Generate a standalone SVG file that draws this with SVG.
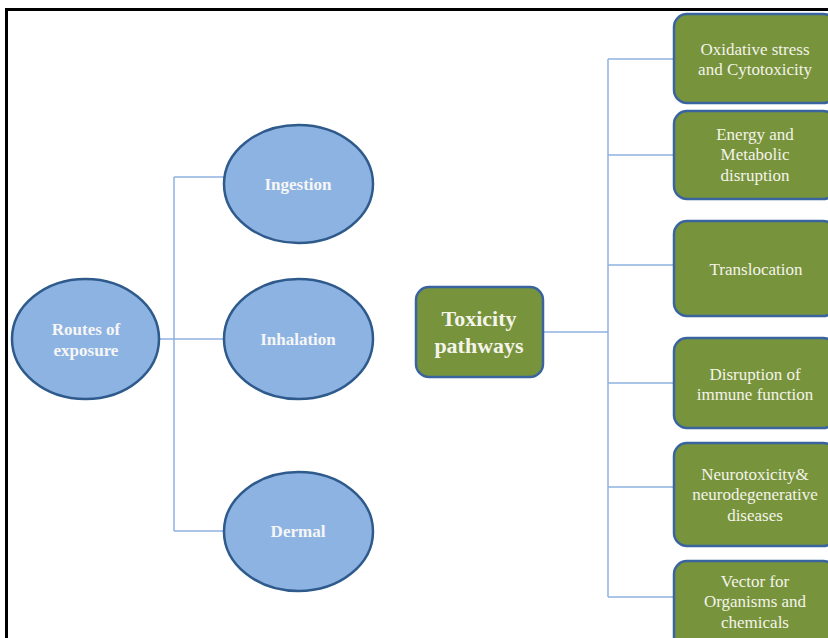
<svg xmlns="http://www.w3.org/2000/svg" width="828" height="638" viewBox="0 0 828 638">
<style>
.ell{fill:#8db3e2;stroke:#2e5a8c;stroke-width:2.5}
.box{fill:#77933c;stroke:#3a64a0;stroke-width:2.5}
.et{font-family:"Liberation Serif",serif;font-weight:bold;font-size:17px;fill:#f6f6f6;text-anchor:middle}
.bt{font-family:"Liberation Serif",serif;font-size:17px;fill:#f4f4ea;text-anchor:middle}
.tt{font-family:"Liberation Serif",serif;font-weight:bold;font-size:22px;fill:#f4f4ea;text-anchor:middle}
.con{fill:none;stroke:#8eb2e0;stroke-width:1.5}
</style>
<rect x="0" y="0" width="828" height="638" fill="#ffffff"/>
<path d="M6.5 650 V9.5 H840" fill="none" stroke="#000" stroke-width="3"/>
<g id="connectors">
<path class="con" d="M159 339 H174 M174 177 V531 M174 177 H224 M174 339 H224 M174 531 H224"/>
<path class="con" d="M543 332 H608 M608 59 V597 M608 59 H674 M608 155 H674 M608 265 H674 M608 383 H674 M608 487 H674 M608 597 H674"/>
</g>
<g id="routes"><ellipse class="ell" cx="85.5" cy="339" rx="73.5" ry="60"/><text class="et" x="86" y="335">Routes of</text><text class="et" x="86" y="356">exposure</text></g>
<g id="ingestion"><ellipse class="ell" cx="298.5" cy="184" rx="74.5" ry="59"/><text class="et" x="298" y="190">Ingestion</text></g>
<g id="inhalation"><ellipse class="ell" cx="298.5" cy="339" rx="74.5" ry="60"/><text class="et" x="298" y="345">Inhalation</text></g>
<g id="dermal"><ellipse class="ell" cx="298.5" cy="531.5" rx="74.5" ry="59.5"/><text class="et" x="298" y="537">Dermal</text></g>
<g id="toxicity"><rect class="box" x="416" y="287" width="127" height="90" rx="13"/><text class="tt" x="479" y="326">Toxicity</text><text class="tt" x="479" y="353">pathways</text></g>
<g id="oxidative"><rect class="box" x="674" y="14" width="162" height="89" rx="13"/><text class="bt" x="755" y="55">Oxidative stress</text><text class="bt" x="755" y="75">and Cytotoxicity</text></g>
<g id="energy"><rect class="box" x="674" y="111" width="162" height="88" rx="13"/><text class="bt" x="755" y="140">Energy and</text><text class="bt" x="755" y="160">Metabolic</text><text class="bt" x="755" y="181">disruption</text></g>
<g id="translocation"><rect class="box" x="674" y="221" width="162" height="95" rx="13"/><text class="bt" x="756" y="275">Translocation</text></g>
<g id="immune"><rect class="box" x="674" y="338" width="162" height="90" rx="13"/><text class="bt" x="755" y="380">Disruption of</text><text class="bt" x="755" y="400">immune function</text></g>
<g id="neuro"><rect class="box" x="674" y="443" width="162" height="103" rx="13"/><text class="bt" x="755" y="480">Neurotoxicity&amp;</text><text class="bt" x="755" y="500">neurodegenerative</text><text class="bt" x="755" y="521">diseases</text></g>
<g id="vector"><rect class="box" x="674" y="561" width="162" height="95" rx="13"/><text class="bt" x="755" y="587">Vector for</text><text class="bt" x="755" y="607">Organisms and</text><text class="bt" x="755" y="628">chemicals</text></g>
</svg>
